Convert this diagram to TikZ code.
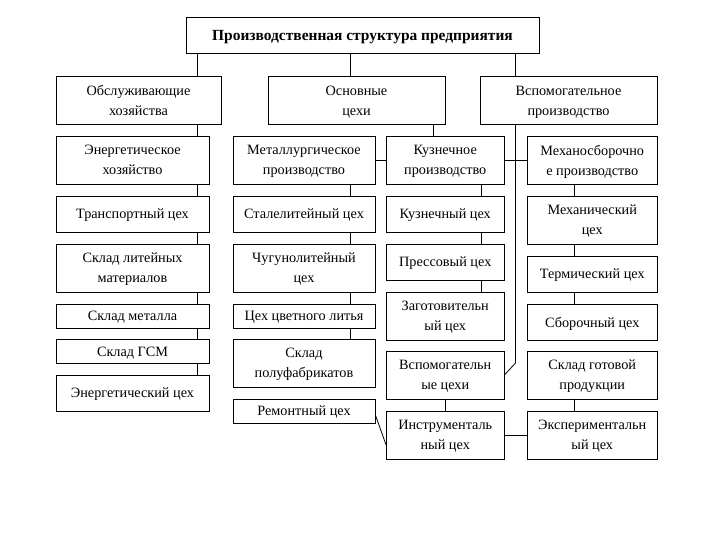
\documentclass[tikz,border=0pt]{standalone}
\usepackage{fontspec}
\setmainfont{Liberation Serif}
\usetikzlibrary{calc}

\begin{document}
\begin{tikzpicture}[x=1bp, y=-1bp,
      boxCell/.style={rectangle, draw, fill=white, line width=0.8bp, inner sep=0pt, text depth=0pt, align=center, font=\fontsize{14.3}{20}\selectfont},
      boxTop/.style={boxCell, font=\fontsize{15.5}{20}\selectfont\bfseries},
      tall/.style={minimum height=48bp},
      short/.style={minimum height=36bp},
      tiny/.style={minimum height=24bp},
      colA/.style={minimum width=153bp},
      colB/.style={minimum width=142bp},
      colC/.style={minimum width=117.5bp},
      colD/.style={minimum width=130.5bp},
      link/.style={draw, line width=0.8bp}
    ]
      \fill[white] (0,0) rectangle (720,540);
      \useasboundingbox (0,0) rectangle (720,540);
      % trunk lines
      \coordinate (trkA) at (197,0);
      \coordinate (trkB) at (350,0);
      \coordinate (trkM) at (433,0);
      \coordinate (trkC) at (481,0);
      \coordinate (trkX) at (515.5,0);
      \coordinate (trkD) at (574,0);

      \node[boxTop, short, minimum width=353bp] (top) at (362.5,35) {Производственная структура предприятия};

      \node[boxCell, tall, minimum width=165bp] (servHead) at (138.5,100.5) {Обслуживающие\\хозяйства};
      \node[boxCell, tall, minimum width=177bp] (mainHead) at (356.5,100.5) {Основные\\цехи};
      \node[boxCell, tall, minimum width=177bp] (auxHead) at (568.5,100.5) {Вспомогательное\\производство};

      % service
      \node[boxCell, colA, tall] (energyFarm) at (132.5,160) {Энергетическое\\хозяйство};
      \node[boxCell, colA, short] (transport) at (132.5,214) {Транспортный цех};
      \node[boxCell, colA, tall] (castStore) at (132.5,268) {Склад литейных\\материалов};
      \node[boxCell, colA, tiny] (metalStore) at (132.5,316) {Склад металла};
      \node[boxCell, colA, tiny] (fuelStore) at (132.5,351.5) {Склад ГСМ};
      \node[boxCell, colA, short] (powerShop) at (132.5,393) {Энергетический цех};

      % main
      \node[boxCell, colB, tall] (metallurgy) at (304,160) {Металлургическое\\производство};
      \node[boxCell, colB, short] (steelShop) at (304,214) {Сталелитейный цех};
      \node[boxCell, colB, tall] (ironShop) at (304,268) {Чугунолитейный\\цех};
      \node[boxCell, colB, tiny] (nonferrous) at (304,316) {Цех цветного литья};
      \node[boxCell, colB, tall] (semiStore) at (304,363) {Склад\\полуфабрикатов};
      \node[boxCell, colB, tiny] (repairShop) at (304,411) {Ремонтный цех};

      \node[boxCell, colC, tall] (forging) at (445.25,160) {Кузнечное\\производство};
      \node[boxCell, colC, short] (forgeShop) at (445.25,214) {Кузнечный цех};
      \node[boxCell, colC, short] (pressShop) at (445.25,262) {Прессовый цех};
      \node[boxCell, colC, tall] (blankShop) at (445.25,316) {Заготовительн\\ый цех};
      \node[boxCell, colC, tall] (auxShops) at (445.25,375) {Вспомогательн\\ые цехи};
      \node[boxCell, colC, tall] (toolShop) at (445.25,435) {Инструменталь\\ный цех};

      % machining
      \node[boxCell, colD, tall] (assembly) at (592.25,160) {Механосборочно\\е производство};
      \node[boxCell, colD, tall] (machineShop) at (592.25,220) {Механический\\цех};
      \node[boxCell, colD, short] (heatShop) at (592.25,274) {Термический цех};
      \node[boxCell, colD, short] (assemblyShop) at (592.25,322) {Сборочный цех};
      \node[boxCell, colD, tall] (productStore) at (592.25,375) {Склад готовой\\продукции};
      \node[boxCell, colD, tall] (testShop) at (592.25,435) {Экспериментальн\\ый цех};

      % connectors
      \draw[link] (trkA |- top.south) -- (trkA |- servHead.north)
        (trkA |- servHead.south) -- (trkA |- energyFarm.north)
        (trkA |- energyFarm.south) -- (trkA |- transport.north)
        (trkA |- transport.south) -- (trkA |- castStore.north)
        (trkA |- castStore.south) -- (trkA |- metalStore.north)
        (trkA |- metalStore.south) -- (trkA |- fuelStore.north)
        (trkA |- fuelStore.south) -- (trkA |- powerShop.north);
      \draw[link] (trkB |- top.south) -- (trkB |- mainHead.north)
        (trkB |- metallurgy.south) -- (trkB |- steelShop.north)
        (trkB |- steelShop.south) -- (trkB |- ironShop.north)
        (trkB |- ironShop.south) -- (trkB |- nonferrous.north)
        (trkB |- nonferrous.south) -- (trkB |- semiStore.north);
      \draw[link] (trkM |- mainHead.south) -- (trkM |- forging.north);
      \draw[link] (metallurgy.east) -- (forging.west);
      \draw[link] (forging.east) -- (assembly.west);
      \draw[link] (trkC |- forging.south) -- (trkC |- forgeShop.north)
        (trkC |- forgeShop.south) -- (trkC |- pressShop.north)
        (trkC |- pressShop.south) -- (trkC |- blankShop.north);
      \draw[link] (auxShops.south) -- (toolShop.north);
      \draw[link] (trkX |- top.south) -- (trkX |- auxHead.north);
      \draw[link] (trkX |- auxHead.south) -- ($(trkX |- auxShops.east)+(0,-12)$) -- (auxShops.east);
      \draw[link] (trkD |- assembly.south) -- (trkD |- machineShop.north)
        (trkD |- machineShop.south) -- (trkD |- heatShop.north)
        (trkD |- heatShop.south) -- (trkD |- assemblyShop.north)
        (trkD |- productStore.south) -- (trkD |- testShop.north);
      \draw[link] ([yshift=-4bp]repairShop.east) -- ([yshift=-10bp]toolShop.west);
      \draw[link] (toolShop.east) -- (testShop.west);
    \end{tikzpicture}
\end{document}
